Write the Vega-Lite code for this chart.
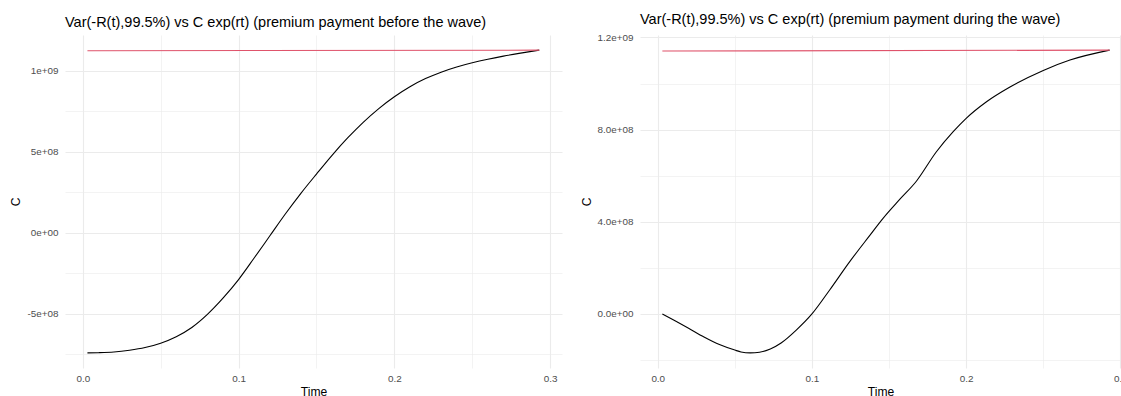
{
  "$schema": "https://vega.github.io/schema/vega-lite/v6.json",
  "padding": {"left": 9, "top": 11, "right": 0, "bottom": 0},
  "spacing": 18,
  "background": "white",
  "config": {
    "view": {"stroke": null},
    "font": "Liberation Sans",
    "title": {"font": "Liberation Sans", "fontSize": 14.5, "fontWeight": "normal", "color": "#000000", "anchor": "start", "frame": "group", "offset": 5},
    "axis": {
      "labelFont": "Liberation Sans", "labelFontSize": 9.9, "labelColor": "#4D4D4D",
      "titleFont": "Liberation Sans", "titleFontSize": 12.1, "titleFontWeight": "normal", "titleColor": "#000000",
      "domain": false, "ticks": false, "tickSize": 0, "gridColor": "#EBEBEB", "labelFlush": false
    }
  },
  "datasets": {
    "left": [
      {"series": "VaR", "t": 0.003, "v": -743000000},
      {"series": "VaR", "t": 0.010, "v": -742000000},
      {"series": "VaR", "t": 0.020, "v": -738000000},
      {"series": "VaR", "t": 0.030, "v": -727000000},
      {"series": "VaR", "t": 0.040, "v": -710000000},
      {"series": "VaR", "t": 0.050, "v": -683000000},
      {"series": "VaR", "t": 0.060, "v": -643000000},
      {"series": "VaR", "t": 0.070, "v": -586000000},
      {"series": "VaR", "t": 0.080, "v": -505000000},
      {"series": "VaR", "t": 0.090, "v": -405000000},
      {"series": "VaR", "t": 0.100, "v": -290000000},
      {"series": "VaR", "t": 0.110, "v": -157000000},
      {"series": "VaR", "t": 0.120, "v": -21000000},
      {"series": "VaR", "t": 0.130, "v": 115000000},
      {"series": "VaR", "t": 0.140, "v": 243000000},
      {"series": "VaR", "t": 0.150, "v": 362000000},
      {"series": "VaR", "t": 0.160, "v": 478000000},
      {"series": "VaR", "t": 0.170, "v": 585000000},
      {"series": "VaR", "t": 0.180, "v": 682000000},
      {"series": "VaR", "t": 0.190, "v": 767000000},
      {"series": "VaR", "t": 0.200, "v": 840000000},
      {"series": "VaR", "t": 0.210, "v": 902000000},
      {"series": "VaR", "t": 0.220, "v": 952000000},
      {"series": "VaR", "t": 0.230, "v": 992000000},
      {"series": "VaR", "t": 0.240, "v": 1024000000},
      {"series": "VaR", "t": 0.250, "v": 1050000000},
      {"series": "VaR", "t": 0.260, "v": 1072000000},
      {"series": "VaR", "t": 0.270, "v": 1091000000},
      {"series": "VaR", "t": 0.280, "v": 1108000000},
      {"series": "VaR", "t": 0.293, "v": 1128000000},
      {"series": "Cexp", "t": 0.003, "v": 1124000000},
      {"series": "Cexp", "t": 0.293, "v": 1128000000}
    ],
    "right": [
      {"series": "VaR", "t": 0.003, "v": 0},
      {"series": "VaR", "t": 0.010, "v": -25000000},
      {"series": "VaR", "t": 0.020, "v": -62000000},
      {"series": "VaR", "t": 0.030, "v": -100000000},
      {"series": "VaR", "t": 0.040, "v": -133000000},
      {"series": "VaR", "t": 0.050, "v": -157000000},
      {"series": "VaR", "t": 0.054, "v": -165000000},
      {"series": "VaR", "t": 0.060, "v": -169000000},
      {"series": "VaR", "t": 0.066, "v": -166000000},
      {"series": "VaR", "t": 0.073, "v": -152000000},
      {"series": "VaR", "t": 0.080, "v": -126000000},
      {"series": "VaR", "t": 0.090, "v": -69000000},
      {"series": "VaR", "t": 0.100, "v": 0},
      {"series": "VaR", "t": 0.1115, "v": 104000000},
      {"series": "VaR", "t": 0.1245, "v": 227000000},
      {"series": "VaR", "t": 0.1374, "v": 340000000},
      {"series": "VaR", "t": 0.1461, "v": 415000000},
      {"series": "VaR", "t": 0.1569, "v": 497000000},
      {"series": "VaR", "t": 0.1677, "v": 576000000},
      {"series": "VaR", "t": 0.1807, "v": 704000000},
      {"series": "VaR", "t": 0.1916, "v": 791000000},
      {"series": "VaR", "t": 0.200, "v": 849000000},
      {"series": "VaR", "t": 0.2132, "v": 921000000},
      {"series": "VaR", "t": 0.2284, "v": 985000000},
      {"series": "VaR", "t": 0.250, "v": 1057000000},
      {"series": "VaR", "t": 0.2673, "v": 1102000000},
      {"series": "VaR", "t": 0.293, "v": 1145000000},
      {"series": "Cexp", "t": 0.003, "v": 1141000000},
      {"series": "Cexp", "t": 0.293, "v": 1145000000}
    ]
  },
  "hconcat": [
    {
      "title": "Var(-R(t),99.5%) vs C exp(rt) (premium payment before the wave)",
      "width": 497,
      "height": 333,
      "data": {"name": "left"},
      "mark": {"type": "line", "strokeWidth": 1.1, "interpolate": "monotone"},
      "encoding": {
        "x": {
          "field": "t", "type": "quantitative", "title": "Time",
          "scale": {"domain": [-0.0114, 0.3076], "nice": false, "zero": false},
          "axis": {
            "values": [0, 0.05, 0.1, 0.15, 0.2, 0.25, 0.3],
            "labelExpr": "(datum.value == 0 || datum.value == 0.1 || datum.value == 0.2 || datum.value == 0.3) ? format(datum.value, '.1f') : ''",
            "gridWidth": {"condition": {"test": "datum.value == 0 || datum.value == 0.1 || datum.value == 0.2 || datum.value == 0.3", "value": 1.1}, "value": 0.6},
            "labelPadding": 5, "titlePadding": 3
          }
        },
        "y": {
          "field": "v", "type": "quantitative", "title": "C",
          "scale": {"domain": [-836600000, 1221600000], "nice": false, "zero": false},
          "axis": {
            "values": [-750000000, -500000000, -250000000, 0, 250000000, 500000000, 750000000, 1000000000],
            "labelExpr": "datum.value == 1000000000 ? '1e+09' : datum.value == 500000000 ? '5e+08' : datum.value == 0 ? '0e+00' : datum.value == -500000000 ? '-5e+08' : ''",
            "gridWidth": {"condition": {"test": "datum.value == -500000000 || datum.value == 0 || datum.value == 500000000 || datum.value == 1000000000", "value": 1.1}, "value": 0.6},
            "labelPadding": 7, "titlePadding": 4
          }
        },
        "color": {"field": "series", "type": "nominal", "scale": {"domain": ["VaR", "Cexp"], "range": ["#000000", "#DF536B"]}, "legend": null}
      }
    },
    {
      "title": "Var(-R(t),99.5%) vs C exp(rt) (premium payment during the wave)",
      "width": 481,
      "height": 333,
      "data": {"name": "right"},
      "mark": {"type": "line", "strokeWidth": 1.1, "interpolate": "monotone"},
      "encoding": {
        "x": {
          "field": "t", "type": "quantitative", "title": "Time",
          "scale": {"domain": [-0.0115, 0.3004], "nice": false, "zero": false},
          "axis": {
            "values": [0, 0.05, 0.1, 0.15, 0.2, 0.25, 0.3],
            "labelExpr": "(datum.value == 0 || datum.value == 0.1 || datum.value == 0.2 || datum.value == 0.3) ? format(datum.value, '.1f') : ''",
            "gridWidth": {"condition": {"test": "datum.value == 0 || datum.value == 0.1 || datum.value == 0.2 || datum.value == 0.3", "value": 1.1}, "value": 0.6},
            "labelPadding": 5, "titlePadding": 3
          }
        },
        "y": {
          "field": "v", "type": "quantitative", "title": "C",
          "scale": {"domain": [-234700000, 1210700000], "nice": false, "zero": false},
          "axis": {
            "values": [-200000000, 0, 200000000, 400000000, 600000000, 800000000, 1000000000, 1200000000],
            "labelExpr": "datum.value == 1200000000 ? '1.2e+09' : datum.value == 800000000 ? '8.0e+08' : datum.value == 400000000 ? '4.0e+08' : datum.value == 0 ? '0.0e+00' : ''",
            "gridWidth": {"condition": {"test": "datum.value == 0 || datum.value == 400000000 || datum.value == 800000000 || datum.value == 1200000000", "value": 1.1}, "value": 0.6},
            "labelPadding": 7, "titlePadding": 4
          }
        },
        "color": {"field": "series", "type": "nominal", "scale": {"domain": ["VaR", "Cexp"], "range": ["#000000", "#DF536B"]}, "legend": null}
      }
    }
  ]
}
